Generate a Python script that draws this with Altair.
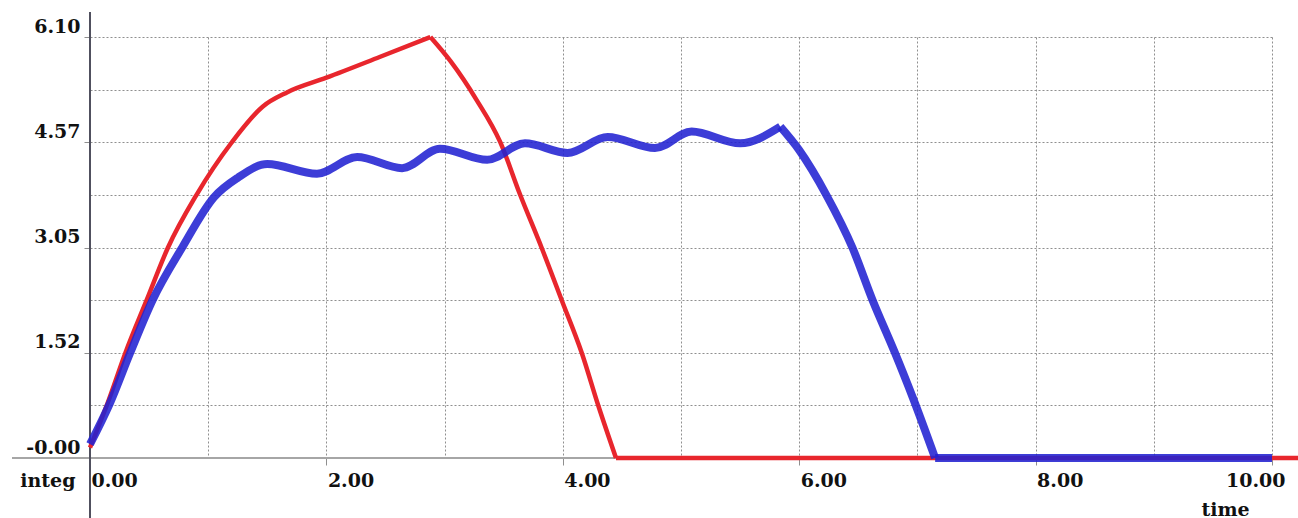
import altair as alt
import pandas as pd

# ---- data ----
red_time = [0.00, 0.15, 0.30, 0.48, 0.66, 0.90, 1.20, 1.46, 1.67, 2.00, 2.45, 2.88,
            3.05, 3.27, 3.47, 3.64, 3.82, 3.99, 4.16, 4.30, 4.45, 10.22]
red_integ = [0.15, 0.80, 1.525, 2.29, 3.05, 3.81, 4.575, 5.09, 5.30, 5.51, 5.81, 6.10,
             5.75, 5.19, 4.58, 3.81, 3.05, 2.29, 1.525, 0.76, 0.00, 0.00]
red_corners = [2.88, 4.45]

blue_time = [0.00, 0.17, 0.34, 0.53, 0.78, 1.05, 1.25, 1.50, 1.92, 2.26, 2.64, 2.96,
             3.36, 3.68, 4.04, 4.38, 4.78, 5.09, 5.50, 5.84, 6.00, 6.23, 6.45, 6.62,
             6.81, 6.96, 7.15, 10.00]
blue_integ = [0.20, 0.80, 1.525, 2.29, 3.05, 3.78, 4.06, 4.26, 4.12, 4.36, 4.20, 4.48,
              4.32, 4.56, 4.42, 4.65, 4.49, 4.73, 4.56, 4.80, 4.46, 3.81, 3.05, 2.29,
              1.525, 0.88, 0.00, 0.00]
blue_corners = [5.84, 7.15]

x_grid = [0, 1, 2, 3, 4, 5, 6, 7, 8, 9, 10]
x_labels = ["0.00", "", "2.00", "", "4.00", "", "6.00", "", "8.00", "", "10.00"]
y_grid = [0.0, 0.7625, 1.525, 2.2875, 3.05, 3.8125, 4.575, 5.3375, 6.1]
y_labels = ["-0.00", "", "1.52", "", "3.05", "", "4.57", "", "6.10"]

W, H = 1182, 421
FONT = "DejaVu Serif"
TXT = "#111111"
GRID = "#8f8f8f"


def js_list(items):
    return "[" + ",".join("'" + s + "'" for s in items) + "]"


def split_at_corners(times, vals, corners):
    """Split a series into smooth pieces that meet at the sharp corners."""
    rows, seg = [], 0
    for t, v in zip(times, vals):
        rows.append({"time": t, "integ": v, "seg": seg})
        if t in corners:
            seg += 1
            rows.append({"time": t, "integ": v, "seg": seg})
    return pd.DataFrame(rows)


red_df = split_at_corners(red_time, red_integ, red_corners)
blue_df = split_at_corners(blue_time, blue_integ, blue_corners)
one = pd.DataFrame({"a": [0]})

x_axis = alt.Axis(
    values=x_grid,
    labelExpr=js_list(x_labels) + "[round(datum.value)]",
    grid=True, gridColor=GRID, gridDash=[2, 2], gridWidth=1,
    domain=False,
    ticks=True, tickSize=7, tickColor=GRID, tickWidth=1,
    tickOpacity={"condition": {"test": "round(datum.value) % 2 == 1", "value": 0}, "value": 1},
    labelAlign={"condition": {"test": "datum.value >= 10", "value": "right"}, "value": "left"},
    labelOffset={"condition": {"test": "datum.value >= 10", "value": 13}, "value": 1},
    labelBaseline="alphabetic", labelPadding=21,
    labelFlush=False, labelOverlap=False, labelBound=False,
    labelFont=FONT, labelFontSize=19, labelFontWeight="bold", labelColor=TXT,
    title="time", titleFont=FONT, titleFontSize=19, titleFontWeight="bold", titleColor=TXT,
    titleAlign="center", titleBaseline="alphabetic", titleX=1135, titleY=57,
)

y_axis = alt.Axis(
    values=y_grid,
    labelExpr=js_list(y_labels) + "[round(datum.value / 0.7625)]",
    grid=True, gridColor=GRID, gridDash=[2, 2], gridWidth=1,
    domain=False,
    ticks=True, tickSize=6, tickColor=GRID, tickWidth=1,
    tickOpacity={"condition": {"test": "round(datum.value / 0.7625) % 2 == 1", "value": 0}, "value": 1},
    labelAlign="right", labelBaseline="alphabetic", labelOffset=-5, labelPadding=4,
    labelFlush=False, labelOverlap=False, labelBound=False,
    labelFont=FONT, labelFontSize=19, labelFontWeight="bold", labelColor=TXT,
    title="integ", titleFont=FONT, titleFontSize=19, titleFontWeight="bold", titleColor=TXT,
    titleAngle=0, titleAlign="right", titleBaseline="alphabetic", titleX=-15, titleY=449,
)

x_scale = alt.Scale(domain=[0, 10], nice=False, zero=False)
y_scale = alt.Scale(domain=[0, 6.1], nice=False, zero=False)

y_line = alt.Chart(one).mark_rule(color="#50505e", strokeWidth=2).encode(
    x=alt.value(0), y=alt.value(-25), y2=alt.value(H + 60)
)
x_line = alt.Chart(one).mark_rule(color="#a6a6a6", strokeWidth=2).encode(
    y=alt.value(H), x=alt.value(-78), x2=alt.value(W + 26)
)

red = alt.Chart(red_df).mark_line(color="#e8262d", strokeWidth=4.5, interpolate="monotone",
                                  strokeJoin="round").encode(
    x=alt.X("time:Q", scale=x_scale, axis=x_axis),
    y=alt.Y("integ:Q", scale=y_scale, axis=y_axis),
    detail="seg:N",
)
blue = alt.Chart(blue_df).mark_line(color="#2222d2", strokeWidth=8, opacity=0.88,
                                    interpolate="monotone", strokeJoin="round").encode(
    x=alt.X("time:Q", scale=x_scale),
    y=alt.Y("integ:Q", scale=y_scale),
    detail="seg:N",
)

chart = alt.layer(x_line, y_line, red, blue).properties(
    width=W, height=H,
    autosize=alt.AutoSizeParams(type="none"),
    padding={"left": 90, "top": 37, "right": 26, "bottom": 60},
    background="white",
).configure_view(stroke=None)

chart.save("out.html", embed_options={"renderer": "svg", "actions": False})
